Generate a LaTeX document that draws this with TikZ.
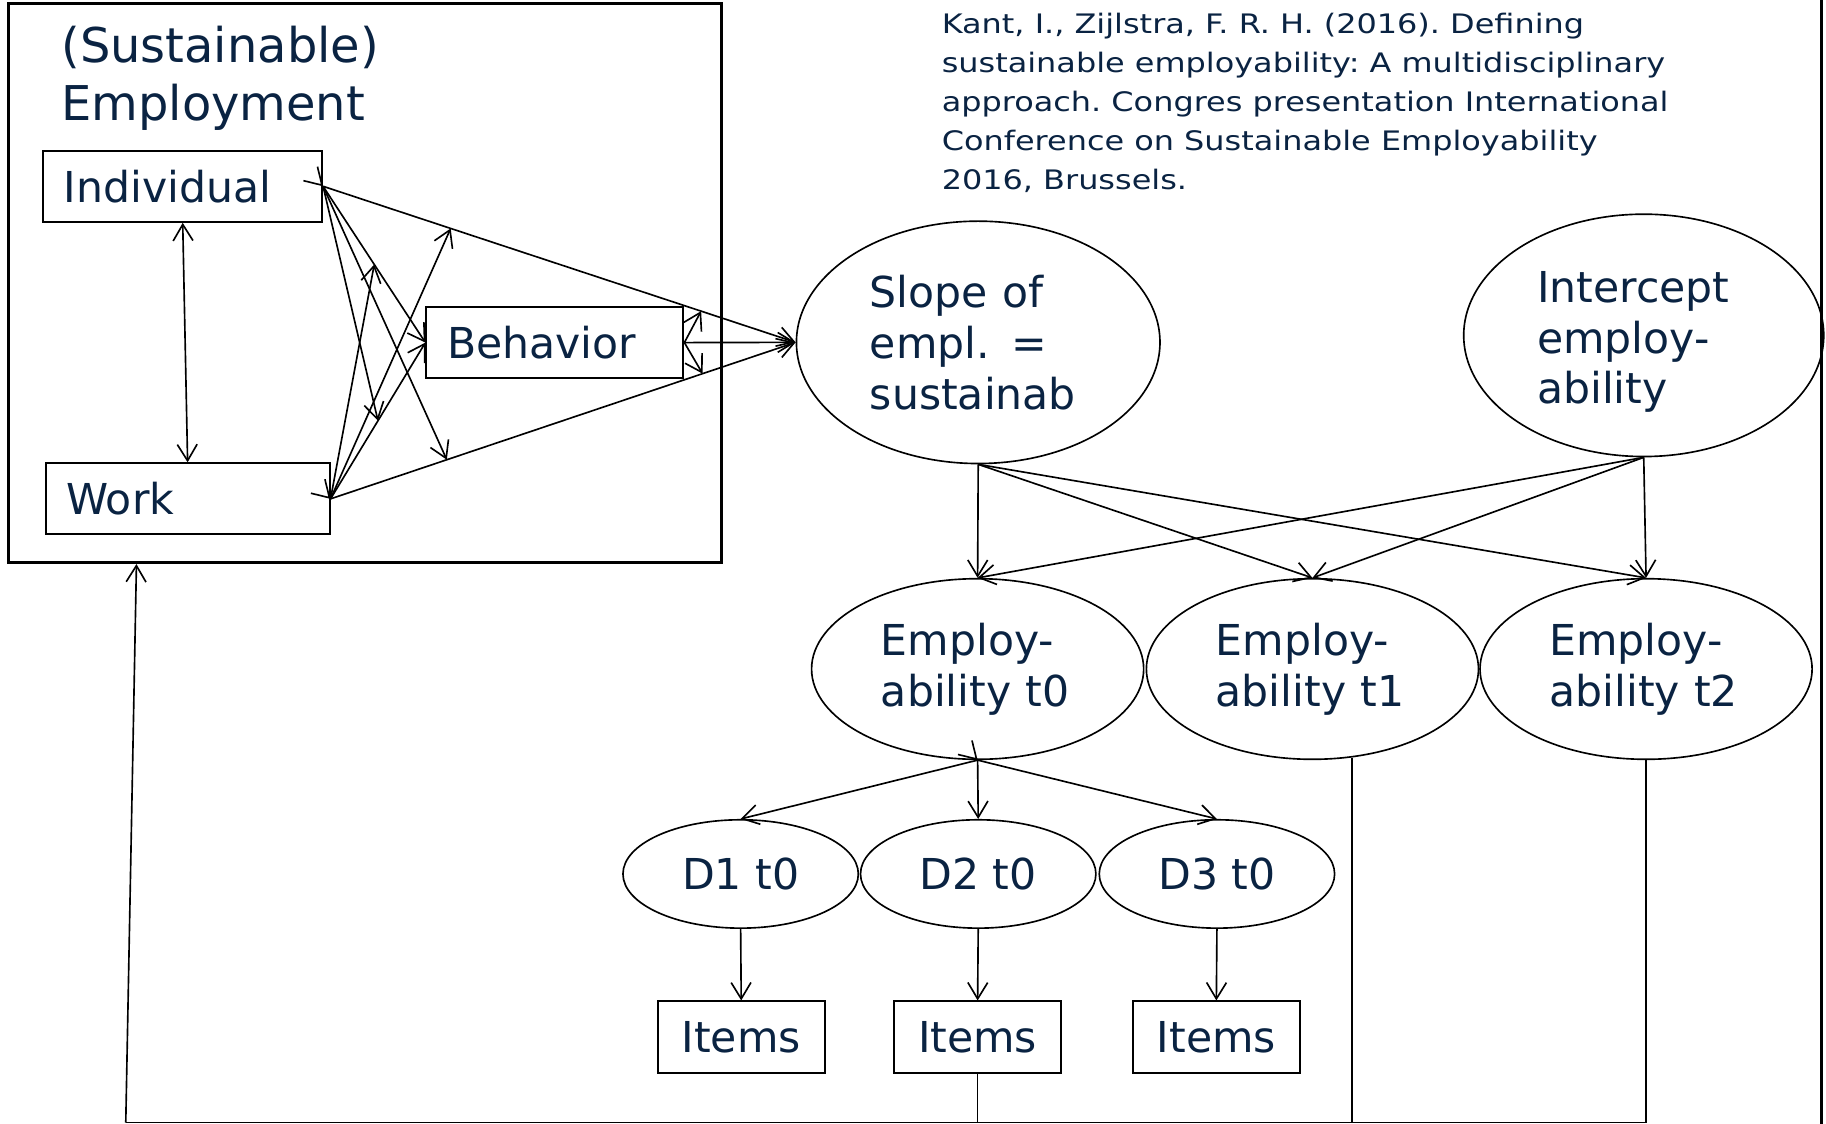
\documentclass[tikz,border=0pt]{standalone}
\usepackage{fontspec}
\setmainfont{DejaVu Sans}
\newfontfamily\citefamily[FakeStretch=1.19]{DejaVu Sans}
\usetikzlibrary{arrows.meta,shapes.geometric,calc}

\definecolor{navy}{HTML}{0A2342}
\newcommand\titlefont{\fontsize{11.7pt}{14.2pt}\selectfont}
\newcommand\boxfont{\fontsize{10.4pt}{12.4pt}\selectfont}
\newcommand\citefont{\citefamily\frenchspacing\fontsize{6.55pt}{9.47pt}\selectfont}

\tikzset{
	box/.style={draw, rectangle, line width=0.5pt, text=navy, font=\boxfont, align=left,
		inner xsep=0.177cm, inner ysep=0pt, minimum height=0.61cm},
	latent/.style={draw, ellipse, line width=0.4pt, text=navy, font=\boxfont, align=left, inner sep=0pt},
	link/.style={->, line width=0.4pt},
}

\begin{document}
\begin{tikzpicture}[x=0.01cm, y=-0.01cm, >={Straight Barb[length=1.4mm,width=1.7mm]}]
			\useasboundingbox (0,0) rectangle (1568,965);
			
			\node[draw, line width=0.7pt, minimum width=6.117cm, minimum height=4.798cm, inner sep=0pt] (sust) at (313.2, 243.1) {};
			\node[anchor=north west, text=navy, font=\titlefont, align=left, inner sep=0pt] (title) at (52, 22) {(Sustainable)\\Employment};
			
			\node[anchor=north west, text=navy, font=\citefont, align=left, inner sep=0pt] (cite) at (808, 11)
				{Kant, I., Zijlstra, F. R. H. (2016). Defining\\
				 sustainable employability: A multidisciplinary\\
				 approach. Congres presentation International\\
				 Conference on Sustainable Employability\\
				 2016, Brussels.};
			
			\begin{scope}
			\node[box, text width=2.038cm] 	(ind) at (156.9, 160) 	{Individual};
			\node[box, text width=2.082cm] 	(work) at (161.1, 428.4) {Work};
			\node[box, text width=1.851cm] 	(beh) at (476.5, 294.2) 	{Behavior};
			
			\node[latent, minimum width=3.12cm, minimum height=2.08cm, text width=1.86cm] (slope) at (840, 294) {Slope of\\empl. =\\sustainab};
			\node[latent, minimum width=3.09cm, minimum height=2.08cm, text width=1.83cm] (icpt) at (1411.5, 288) {\rule{0pt}{0.38cm}Intercept\\employ-\\ability};
			
			\node[latent, minimum width=2.85cm, minimum height=1.55cm, text width=1.66cm] (em0) at (839.5, 574.5) {Employ-\\ability t0};
			\node[latent, minimum width=2.85cm, minimum height=1.55cm, text width=1.66cm] (em1) at (1127, 574.5) {Employ-\\ability t1};
			\node[latent, minimum width=2.85cm, minimum height=1.55cm, text width=1.66cm] (em2) at (1413.5, 574.5) {Employ-\\ability t2};
			
			\node[latent, align=center, minimum width=2.02cm, minimum height=0.93cm] (d1) at (636, 750.5) {D1 t0};
			\node[latent, align=center, minimum width=2.02cm, minimum height=0.93cm] (d2) at (840, 750.5) {D2 t0};
			\node[latent, align=center, minimum width=2.02cm, minimum height=0.93cm] (d3) at (1045, 750.5) {D3 t0};
			
			\node[box, align=center, minimum width=1.43cm] (it1) at (636.5, 890.5) {Items};
			\node[box, align=center, minimum width=1.43cm] (it2) at (839.5, 890.5) {Items};
			\node[box, align=center, minimum width=1.43cm] (it3) at (1044.5, 890.5) {Items};
			\end{scope}
			
			\coordinate (rtop) at (1564, 0);
			\coordinate (rbot) at (1564, 965);
			\coordinate (loopl) at (108, 964);
			\draw[line width=0.8pt] (rtop) -- (rbot);
			
			\path [<->, line width=0.4pt] (ind.south) edge (work.north);
			
			\path [link] (ind.east) edge (beh.west);
			\path [link] (work.east) edge (beh.west);
			\path [link] (ind.east) edge (slope.west);
			\path [link] (work.east) edge (slope.west);
			\path [link] (beh.east) edge (slope.west);
			
			% arrows onto arrows
			\path [link] (work.east) edge ($(ind.east)!0.27!(slope.west)$);
			\path [link] (ind.east) edge ($(work.east)!0.25!(slope.west)$);
			\path [link] (work.east) edge ($(ind.east)!0.5!(beh.west)$);
			\path [link] (ind.east) edge ($(work.east)!0.5!(beh.west)$);
			\path [link] (beh.east) edge ($(ind.east)!0.8!(slope.west)$);
			\path [link] (beh.east) edge ($(work.east)!0.8!(slope.west)$);
			
			\path [link] ($(ind.east)+(-0.5,-0.5)$) edge (ind.east);
			\path [link] ($(work.east)+(-0.5,-0.5)$) edge (work.east);
			\path [link] ($(em0.south)+(-0.5,-0.5)$) edge (em0.south);
			
			\path [link] (slope.south) edge (em0.north);
			\path [link] (slope.south) edge (em1.north);
			\path [link] (slope.south) edge (em2.north);
			\path [link] (icpt.south) edge (em0.north);
			\path [link] (icpt.south) edge (em1.north);
			\path [link] (icpt.south) edge (em2.north);
			
			\path [link] (em0.south) edge (d1.north);
			\path [link] (em0.south) edge (d2.north);
			\path [link] (em0.south) edge (d3.north);
			
			\path [link] (d1.south) edge (it1.north);
			\path [link] (d2.south) edge (it2.north);
			\path [link] (d3.south) edge (it3.north);
			
			% feedback to employment
			\draw[line width=0.4pt] (em2.south) |- (loopl);
			\draw[line width=0.4pt] (it2.south) -- (it2.south |- loopl);
			\draw[line width=0.4pt] (em1.-66) -- (em1.-66 |- loopl);
			\path [link] (loopl) edge ($(sust.south west)!0.181!(sust.south east)$);
\end{tikzpicture}
\end{document}
